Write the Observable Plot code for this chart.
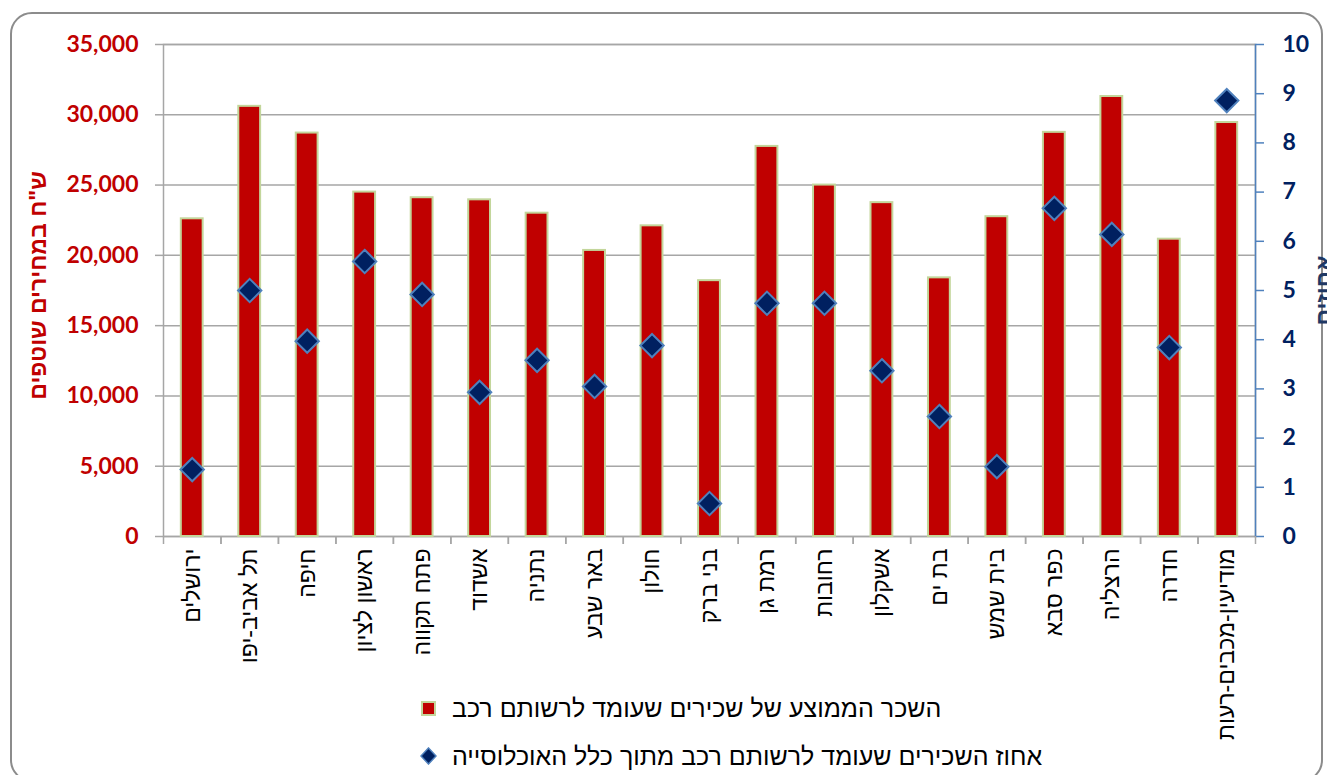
<!DOCTYPE html>
<html lang="he">
<head>
<meta charset="utf-8">
<script src="https://cdn.jsdelivr.net/npm/d3@7"></script>
<script src="https://cdn.jsdelivr.net/npm/@observablehq/plot@0.6"></script>
<style>
  html, body { margin: 0; padding: 0; background: #fff; overflow: hidden; }
  #wrap { position: relative; width: 1327px; height: 775px; overflow: hidden; }
  #border { position: absolute; left: 10px; top: 12px; width: 1313px; height: 770px;
            border: 2px solid #8c8c8c; border-radius: 22px; box-sizing: border-box; }
  #chart { position: absolute; left: 0; top: 0; }
  .ytitle { position: absolute; white-space: nowrap; font-family: "Liberation Sans", Arial, sans-serif;
            font-weight: bold; font-size: 23px; transform-origin: center center; direction: rtl; }
  #legend { position: absolute; left: 420px; top: 696px; font-family: "Liberation Sans", Arial, sans-serif;
            font-size: 25px; color: #000; }
  .item { display: flex; align-items: center; height: 24px; margin-bottom: 24px; direction: ltr; }
  .item span { direction: rtl; margin-left: 16px; }
  .sq { width: 11px; height: 11px; background: #c00000; border: 2px solid #c3d69b; margin-left: 1px; }
</style>
</head>
<body>
<div id="wrap">
  <div id="border"></div>
  <div id="chart"></div>
  <div class="ytitle" id="lt" style="color:#c00000;">ש"ח במחירים שוטפים</div>
  <div class="ytitle" id="rt" style="color:#1f3864;">אחוזים</div>
  <div id="legend">
    <div class="item"><div class="sq"></div><span>השכר הממוצע של שכירים שעומד לרשותם רכב</span></div>
    <div class="item"><svg width="17" height="18" viewBox="-8.5 -9 17 18"><path d="M0,-8L7.5,0L0,8L-7.5,0Z" fill="#002060" stroke="#4f81bd" stroke-width="1.5"/></svg><span style="margin-left:15px">אחוז השכירים שעומד לרשותם רכב מתוך כלל האוכלוסייה</span></div>
  </div>
</div>
<script>
const cities = ["ירושלים","תל אביב-יפו","חיפה","ראשון לציון","פתח תקווה","אשדוד","נתניה","באר שבע","חולון","בני ברק","רמת גן","רחובות","אשקלון","בת ים","בית שמש","כפר סבא","הרצליה","חדרה","מודיעין-מכבים-רעות"];
const salary = [22600,30600,28700,24500,24100,23950,23000,20350,22100,18200,27750,25000,23750,18400,22750,28750,31300,21150,29450];
const percent = [1.36,5.0,3.97,5.59,4.92,2.93,3.58,3.05,3.88,0.67,4.74,4.74,3.37,2.44,1.42,6.67,6.14,3.84,8.86];
const salaryTicks = [0,5000,10000,15000,20000,25000,30000,35000];
const percentTicks = [0,1,2,3,4,5,6,7,8,9,10];

const salaryMax = 35000, percentMax = 10;
const k = salaryMax / percentMax;
const data = cities.map((c, i) => ({city: c, salary: salary[i], pct: percent[i]}));

const W = 1327, H = 775, mL = 163, mR = 72, mT = 44, mB = 239;
const half = (W - mL - mR) / cities.length / 2;

const chart = Plot.plot({
  width: W, height: H,
  marginLeft: mL, marginRight: mR, marginTop: mT, marginBottom: mB,
  style: {fontFamily: "'Liberation Sans', Arial, sans-serif", background: "transparent", overflow: "visible"},
  x: {domain: cities, paddingInner: 0.62, paddingOuter: 0.31, round: false, label: null},
  y: {domain: [0, salaryMax], label: null},
  marks: [
    Plot.gridY({ticks: salaryTicks, stroke: "#a6a6a6", strokeOpacity: 1, strokeWidth: 1.5}),
    Plot.frame({stroke: "#a6a6a6", strokeWidth: 1.5}),
    Plot.barY(data, {x: "city", y: "salary", fill: "#c00000", stroke: "#c3d69b", strokeWidth: 2}),
    Plot.frame({anchor: "right", stroke: "#4f81bd", strokeWidth: 1.5}),
    Plot.axisY({anchor: "left", ticks: salaryTicks, tickFormat: d3.format(","), tickSize: 8, tickPadding: 17,
      stroke: "#a6a6a6", strokeWidth: 1.5, fill: "#c00000", fontWeight: "bold", fontSize: 23,
      fontFamily: "Lato, 'Open Sans', sans-serif", label: null}),
    Plot.axisY({anchor: "right", ticks: percentTicks.map(v => v * k), tickFormat: d => String(Math.round(d / k)),
      tickSize: 8, tickPadding: 19, stroke: "#4f81bd", strokeWidth: 1.5, fill: "#002060",
      fontWeight: "bold", fontSize: 23, fontFamily: "Lato, 'Open Sans', sans-serif", label: null}),
    Plot.axisX({anchor: "bottom", tickSize: 0, tickPadding: 12, tickRotate: -90, fontSize: 23, fill: "#000", label: null}),
    Plot.axisX({anchor: "bottom", tickSize: 8, tickFormat: () => "", dx: half, stroke: "#a6a6a6", strokeWidth: 1.5, label: null}),
    Plot.axisX({anchor: "bottom", tickSize: 8, tickFormat: () => "", dx: -half, stroke: "#a6a6a6", strokeWidth: 1.5, label: null}),
    Plot.dot(data, {x: "city", y: d => d.pct * k, symbol: "diamond2", r: 10.5, fill: "#002060", stroke: "#4f81bd", strokeWidth: 2})
  ]
});
document.getElementById("chart").appendChild(chart);

function placeTitle(id, cx, cy) {
  const el = document.getElementById(id);
  const w = el.offsetWidth, h = el.offsetHeight;
  el.style.left = (cx - w / 2) + "px";
  el.style.top = (cy - h / 2) + "px";
  el.style.transform = "rotate(-90deg)";
}
placeTitle("lt", 38, (mT + (H - mB)) / 2 - 5);
placeTitle("rt", 1324, (mT + (H - mB)) / 2);
</script>
</body>
</html>
